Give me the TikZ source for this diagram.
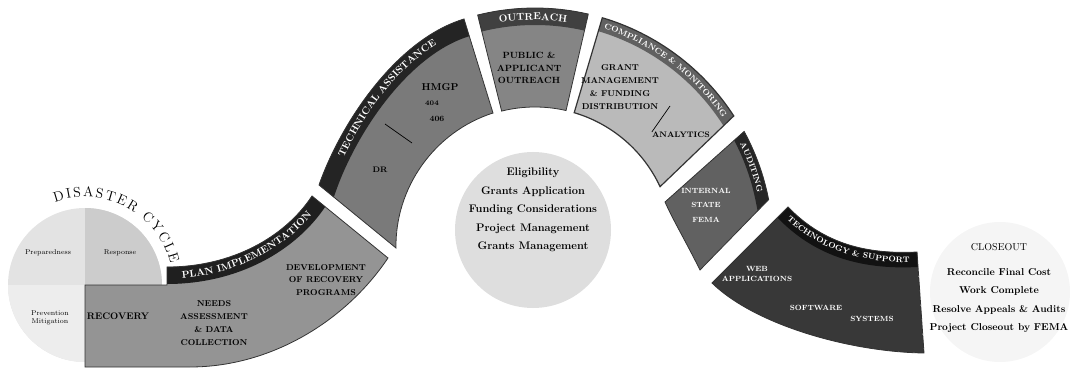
\documentclass[tikz,border=0pt]{standalone}
\usepackage{fontspec}
\usetikzlibrary{decorations.text,calc}
\newcommand\hdrA{\fontsize{10}{10}\selectfont\bfseries\color{white}}
\newcommand\hdrB{\fontsize{8}{8}\selectfont\bfseries\color{white}}
\newcommand\hdrC{\fontsize{8}{8}\selectfont\bfseries\color{white}}
\begin{document}
\begin{tikzpicture}[x=1pt,y=-1pt,
  segline/.style={draw=black!80,line width=0.8pt},
  lbl/.style={font=\fontsize{8.5}{12.8}\selectfont\bfseries,align=center,inner sep=0pt,text=black},
  wlbl/.style={lbl,text=white},
  small/.style={font=\fontsize{7}{8.5}\selectfont,align=center,inner sep=0pt},
  ctr/.style={font=\fontsize{11}{18.5}\selectfont\bfseries,align=center,inner sep=0pt},
  leader/.style={draw=black,line width=0.7pt},
]
\useasboundingbox (0,0) rectangle (1070,371);
\coordinate (C) at (535,245);
\coordinate (DC) at (85,285);

% ---------- path definitions ----------
\def\PlanTop{(167,267) .. controls (232,267) and (285,237) .. (312,196)}
\def\PlanBase{(167,279) .. controls (232,279) and (293,246) .. (321,203)}
\def\PlanPath{(85,285) -- (167,285) -- (167,267) .. controls (232,267) and (285,237) .. (312,196) -- (388,258) .. controls (345,322) and (270,367) .. (190,367) -- (85,367) -- cycle}
\def\TechTop{(319,185) .. controls (340,125) and (395,40) .. (464,19)}
\def\TechBase{(331,189) .. controls (352,129) and (399,52) .. (468,31)}
\def\TechPath{(319,185) .. controls (340,125) and (395,40) .. (464,19) -- (493,113) .. controls (434,132) and (395,188) .. (396,248) -- cycle}
\def\OutTop{($(C)+(-104:237)$) arc[start angle=-104,end angle=-77,radius=237]}
\def\OutBase{($(C)+(-104:225)$) arc[start angle=-104,end angle=-77,radius=225]}
\def\OutPath{($(C)+(-104:237)$) arc[start angle=-104,end angle=-77,radius=237] -- ($(C)+(-77:138)$) arc[start angle=-77,end angle=-104,radius=138] -- cycle}
\def\CompTop{($(C)+(-73.5:237)$) arc[start angle=-73.5,end angle=-33,radius=237]}
\def\CompBase{($(C)+(-73.5:227)$) arc[start angle=-73.5,end angle=-33,radius=227]}
\def\CompPath{($(C)+(-73.5:237)$) arc[start angle=-73.5,end angle=-33,radius=237] -- ($(C)+(-25:138)$) arc[start angle=-25,end angle=-73.5,radius=138] -- cycle}
\def\AudTop{($(C)+(-28.5:238)$) arc[start angle=-28.5,end angle=-11,radius=238]}
\def\AudBase{($(C)+(-28.5:228.5)$) arc[start angle=-28.5,end angle=-11,radius=228.5]}
\def\AudPath{($(C)+(-28.5:238)$) arc[start angle=-28.5,end angle=-11,radius=238] -- (700,270) .. controls (685,240) and (673,220) .. (665,202) -- cycle}
\def\TSTop{(788,207) .. controls (820,240) and (860,255) .. (917,252)}
\def\TSBase{(781,214) .. controls (813,247) and (860,265) .. (918,262)}
\def\TSPath{(788,207) .. controls (820,240) and (860,255) .. (917,252) -- (924,353) .. controls (850,352) and (755,325) .. (712,283) -- cycle}

% ---------- disaster cycle circle ----------
\fill[black!11] (DC) circle[radius=77];
\fill[black!20] (DC) -- ++(77,0) arc[start angle=0,end angle=-90,radius=77] -- cycle;
\fill[black!7] (DC) -- ++(-77,0) arc[start angle=180,end angle=90,radius=77] -- cycle;
\path[decorate,decoration={text along path,text align={fit to path},
  text={|\fontsize{14}{14}\selectfont|DISASTER CYCLE}}]
  ($(DC)+(-110:88)$) arc[start angle=-110,end angle=-14,radius=88];

% ---------- plan implementation ----------
\begin{scope}
  \clip \PlanPath;
  \fill[black!42] \PlanPath;
  \draw[black!88,line width=34pt,line cap=rect] \PlanTop;
  \path[decorate,decoration={text along path,text align=center,
    text={|\hdrA|PLAN IMPLEMENTATION}}] \PlanBase;
\end{scope}
\draw[segline] \PlanPath;

% ---------- technical assistance ----------
\begin{scope}
  \clip \TechPath;
  \fill[black!52] \TechPath;
  \draw[black!86,line width=36pt,line cap=rect] \TechTop;
  \path[decorate,decoration={text along path,text align=center,
    text={|\hdrA|TECHNICAL ASSISTANCE}}] \TechBase;
\end{scope}
\draw[segline] \TechPath;

% ---------- outreach ----------
\begin{scope}
  \clip \OutPath;
  \fill[black!48] \OutPath;
  \draw[black!75,line width=34pt] \OutTop;
  \path[decorate,decoration={text along path,text align=center,
    text={|\hdrA|OUTREACH}}] \OutBase;
\end{scope}
\draw[segline] \OutPath;

% ---------- compliance & monitoring ----------
\begin{scope}
  \clip \CompPath;
  \fill[black!27] \CompPath;
  \draw[black!62,line width=28pt,line cap=rect] \CompTop;
  \path[decorate,decoration={text along path,text align=center,
    text={|\hdrB|COMPLIANCE {\&} MONITORING}}] \CompBase;
\end{scope}
\draw[segline,line width=1.2pt] \CompPath;

% ---------- auditing ----------
\begin{scope}
  \clip \AudPath;
  \fill[black!62] \AudPath;
  \draw[black!85,line width=26pt,line cap=rect] \AudTop;
  \path[decorate,decoration={text along path,text align=center,
    text={|\hdrB|AUDITING}}] \AudBase;
\end{scope}
\draw[segline] \AudPath;

% ---------- technology & support ----------
\begin{scope}
  \clip \TSPath;
  \fill[black!78] \TSPath;
  \draw[black!93,line width=30pt,line cap=rect] \TSTop;
  \path[decorate,decoration={text along path,text align=center,
    text={|\hdrC|TECHNOLOGY {\&} SUPPORT}}] \TSBase;
\end{scope}
\draw[segline] \TSPath;

% ---------- centre circle ----------
\fill[black!13] (533,230) circle[radius=78];
\node[ctr] (centre) at (533,210) {Eligibility\\Grants Application\\Funding Considerations\\Project Management\\Grants Management};

% ---------- closeout circle ----------
\fill[black!4] (1000,292) circle[radius=70];
\node[font=\fontsize{10}{10}\selectfont,inner sep=0pt] (closeout) at (999,247) {CLOSEOUT};
\node[font=\fontsize{10}{18.3}\selectfont\bfseries,align=center,inner sep=0pt] (closelist) at (999,300.5)
  {Reconcile Final Cost\\Work Complete\\Resolve Appeals \& Audits\\Project Closeout by FEMA};

% ---------- disaster cycle quadrant labels ----------
\node[small] (prep) at (48,253) {Preparedness};
\node[small] (resp) at (120,253) {Response};
\node[small] (prev) at (50,318) {Prevention\\Mitigation};
\node[font=\fontsize{9.5}{9.5}\selectfont\bfseries,inner sep=0pt] (recov) at (118,316) {RECOVERY};

% ---------- segment labels ----------
\node[lbl] (needs) at (214,323) {NEEDS\\ASSESSMENT\\\& DATA\\COLLECTION};
\node[lbl] (devel) at (326,280) {DEVELOPMENT\\OF RECOVERY\\PROGRAMS};
\node[lbl,font=\fontsize{10}{10}\selectfont\bfseries] (hmgp) at (440,87) {HMGP};
\node[lbl,font=\fontsize{7}{7}\selectfont\bfseries] (s404) at (432,103) {404};
\node[lbl,font=\fontsize{8}{8}\selectfont\bfseries] (s406) at (437,119) {406};
\node[lbl,font=\fontsize{8}{8}\selectfont\bfseries] (dr) at (380,170) {DR};
\coordinate (ta1) at (385,124);
\coordinate (ta2) at (412,143);
\draw[leader] (ta1) -- (ta2);
\node[lbl,font=\fontsize{9}{12.5}\selectfont\bfseries] (pubout) at (529,68) {PUBLIC \&\\APPLICANT\\OUTREACH};
\node[lbl] (grant) at (620,87) {GRANT\\MANAGEMENT\\\& FUNDING\\DISTRIBUTION};
\node[lbl,font=\fontsize{8}{8}\selectfont\bfseries] (analytics) at (681,135) {ANALYTICS};
\coordinate (cm1) at (670,106);
\draw[leader] (cm1) -- (analytics.north west);
\node[wlbl,font=\fontsize{7.5}{14.5}\selectfont\bfseries] (audtxt) at (706,205) {INTERNAL\\STATE\\FEMA};
\node[wlbl,font=\fontsize{7.5}{10.5}\selectfont\bfseries] (tsdata) at (757,274) {WEB\\APPLICATIONS};
\node[wlbl,font=\fontsize{7.5}{7.5}\selectfont\bfseries] (tssoft) at (816,308) {SOFTWARE};
\node[wlbl,font=\fontsize{7.5}{7.5}\selectfont\bfseries] (tssys) at (872,319) {SYSTEMS};
\end{tikzpicture}
\end{document}
